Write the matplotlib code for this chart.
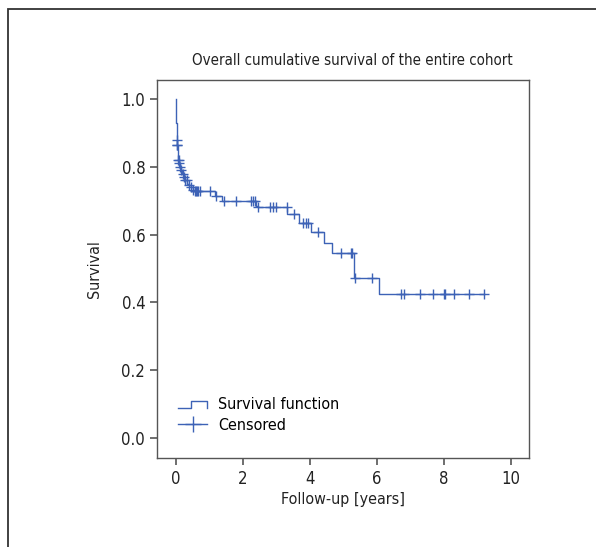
import matplotlib
matplotlib.use("Agg")
import matplotlib.pyplot as plt
import numpy as np
from matplotlib.lines import Line2D
from matplotlib.legend_handler import HandlerBase
from matplotlib.patches import Rectangle

# Kaplan-Meier step values
step_times = [0.0, 0.005, 0.01, 0.015, 0.02, 0.03, 0.05, 0.07, 0.09, 0.12, 0.15,
              0.19, 0.23, 0.28, 0.34, 0.40, 0.45, 0.50, 0.55, 1.15, 1.37, 2.38,
              2.45, 3.32, 3.67, 4.03, 4.42, 4.66, 5.31, 6.06]
surv = [1.0, 0.96, 0.93, 0.90, 0.88, 0.865, 0.84, 0.82, 0.81, 0.80, 0.79,
        0.78, 0.77, 0.76, 0.75, 0.745, 0.74, 0.733, 0.728, 0.713, 0.70, 0.685,
        0.681, 0.66, 0.634, 0.607, 0.575, 0.545, 0.472, 0.425]
censor_times = [0.02, 0.03, 0.04, 0.07, 0.08, 0.10, 0.13, 0.16, 0.20, 0.24, 0.28,
                0.33, 0.40, 0.46, 0.52, 0.57, 0.60, 0.63, 0.66, 0.70, 1.00, 1.18,
                1.42, 1.79, 2.25, 2.30, 2.35, 2.45, 2.80, 2.90, 2.97, 3.31, 3.52,
                3.80, 3.88, 3.95, 4.24, 4.93, 5.22, 5.26, 5.34, 5.85, 6.72, 6.80,
                7.28, 7.67, 8.00, 8.04, 8.30, 8.75, 9.19]
last_time = 9.19

title = "Overall cumulative survival of the entire cohort"
xlabel = "Follow-up [years]"
ylabel = "Survival"

blue = "#3d62b6"
grey = "#555555"
plt.rcParams['font.family'] = ['DejaVu Sans']
plt.rcParams['font.stretch'] = 'condensed'

# y value of each censor mark, looked up on the step function
st = np.array(step_times)
sv = np.array(surv)
ct = np.array(censor_times)
cs = sv[np.searchsorted(st, ct, side="right") - 1]


class StepHandler(HandlerBase):
    # legend key drawn as a small step: low, up, across, down
    def create_artists(self, legend, orig, xd, yd, w, h, fontsize, trans):
        xs = [xd, xd + 0.45 * w, xd + 0.45 * w, xd + w, xd + w]
        ys = [yd + 0.1 * h, yd + 0.1 * h, yd + 0.75 * h, yd + 0.75 * h, yd + 0.1 * h]
        ln = Line2D(xs, ys, color=blue, lw=1.0, transform=trans)
        return [ln]


fig = plt.figure(figsize=(5.96, 5.47), dpi=100)
fig.patches.append(Rectangle((8 / 596, -0.1), 1.2, 1.1 - 9 / 547, transform=fig.transFigure,
                             fill=False, edgecolor="#333333", lw=1.3))
ax = fig.add_axes([157 / 596, 1 - 458 / 547, 372 / 596, 378 / 547])

ext_t = np.append(st, last_time)
ext_s = np.append(sv, sv[-1])
surv_line, = ax.step(ext_t, ext_s, where="post", color=blue, lw=1.0)
ax.plot(ct, cs, "+", color=blue, ms=7, mew=1.0, linestyle="None")

ax.set_xlim(-0.57, 10.54)
ax.set_ylim(-0.059, 1.056)
ax.set_xticks([0, 2, 4, 6, 8, 10])
ax.set_yticks([0.0, 0.2, 0.4, 0.6, 0.8, 1.0])
ax.set_yticklabels(["0.0", "0.2", "0.4", "0.6", "0.8", "1.0"])
for s in ax.spines.values():
    s.set_color(grey)
    s.set_linewidth(1.0)
ax.tick_params(colors=grey, labelcolor="#222222", labelsize=12, length=5, width=1.2)

ax.set_title(title, fontsize=10.8, color="#222222", pad=11, x=0.525)
ax.set_xlabel(xlabel, fontsize=11.5, color="#222222", labelpad=3)
ax.set_ylabel(ylabel, fontsize=11.5, color="#222222", labelpad=14)

cens_handle = Line2D([], [], color=blue, marker="+", ms=12, mew=1.0, lw=1.0)
ax.legend([surv_line, cens_handle], ["Survival function", "Censored"],
          handler_map={surv_line: StepHandler()},
          loc="lower left", bbox_to_anchor=(0.019, 0.028), frameon=False,
          fontsize=11.5, handlelength=1.8, handletextpad=0.7, labelspacing=0.35)

fig.savefig("out.png", dpi=100)
